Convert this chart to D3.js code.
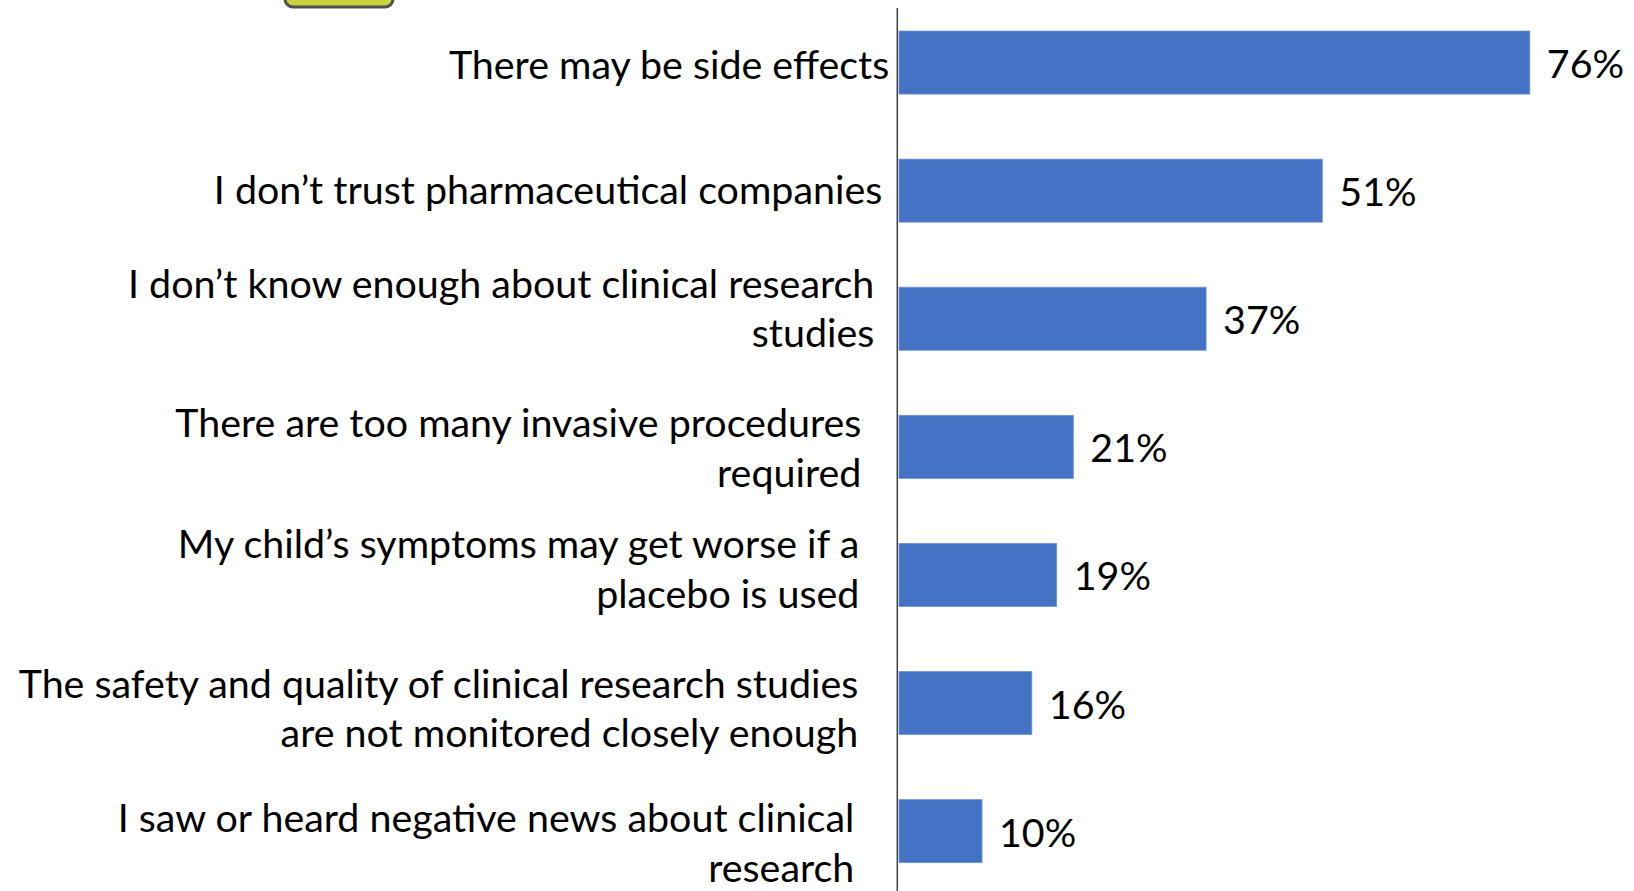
<!DOCTYPE html>
<html>
<head>
<meta charset="utf-8">
<script src="https://cdn.jsdelivr.net/npm/d3@7"></script>
<style>
  html, body { margin: 0; padding: 0; background: #ffffff; }
  svg { display: block; }
</style>
</head>
<body>
<svg id="chart" width="1634" height="891"></svg>
<script>
// ---- data ----
const categories = [
  "There may be side effects",
  "I don’t trust pharmaceutical companies",
  "I don’t know enough about clinical research\nstudies",
  "There are too many invasive procedures\nrequired",
  "My child’s symptoms may get worse if a\nplacebo is used",
  "The safety and quality of clinical research studies\nare not monitored closely enough",
  "I saw or heard negative news about clinical\nresearch"
];
const values = [76, 51, 37, 21, 19, 16, 10];
const valueLabels = ["76%", "51%", "37%", "21%", "19%", "16%", "10%"];

// ---- layout (not data) ----
const labelGap = [8, 15, 23, 36, 38, 39, 43];          // gap between label right edge and axis
const labelBaseline = [16.3, 13.3, -21, -9.8, -16.5, -5.3, 0.9]; // first baseline offset vs bar centre
const lineHeight = 49.5;
const fontFamily = "Lato, 'Open Sans', sans-serif";
const fontSize = 39.4;

const svg = d3.select("#chart");

const x = d3.scaleLinear().domain([0, 100]).range([899, 1729]);
const y = d3.scaleBand().domain(categories).range([-1.5, 895.2])
  .paddingInner(0.508).paddingOuter(0.254);

// yellow decorative box at the top
svg.append("rect")
  .attr("x", 285).attr("y", -20).attr("width", 108).attr("height", 27)
  .attr("rx", 8).attr("ry", 8)
  .attr("fill", "#c8d43c").attr("stroke", "#505050").attr("stroke-width", 3);

// bars
svg.append("g").selectAll("rect")
  .data(values)
  .join("rect")
  .attr("x", x(0))
  .attr("y", (d, i) => y(categories[i]))
  .attr("width", d => x(d) - x(0))
  .attr("height", y.bandwidth())
  .attr("fill", "#4472C4")
  .attr("stroke", "#6f93d3")
  .attr("stroke-width", 0.8);

// axis line (category axis, no ticks)
const axisX = 897.3;
svg.append("line")
  .attr("x1", axisX).attr("x2", axisX)
  .attr("y1", 8).attr("y2", 891)
  .attr("stroke", "#404040").attr("stroke-width", 1.5);

// category labels
const lab = svg.append("g")
  .attr("font-family", fontFamily)
  .attr("font-size", fontSize)
  .attr("fill", "#000")
  .attr("text-anchor", "end");

categories.forEach((c, i) => {
  const cy = y(c) + y.bandwidth() / 2;
  const t = lab.append("text")
    .attr("x", axisX - labelGap[i])
    .attr("y", cy + labelBaseline[i]);
  c.split("\n").forEach((line, j) => {
    t.append("tspan")
      .attr("x", axisX - labelGap[i])
      .attr("y", cy + labelBaseline[i] + j * lineHeight)
      .text(line);
  });
});

// value labels
svg.append("g")
  .attr("font-family", fontFamily)
  .attr("font-size", fontSize)
  .attr("fill", "#000")
  .selectAll("text")
  .data(values)
  .join("text")
  .attr("x", d => x(d) + 17)
  .attr("y", (d, i) => y(categories[i]) + y.bandwidth() / 2 + 15.5)
  .text((d, i) => valueLabels[i]);
</script>
</body>
</html>
